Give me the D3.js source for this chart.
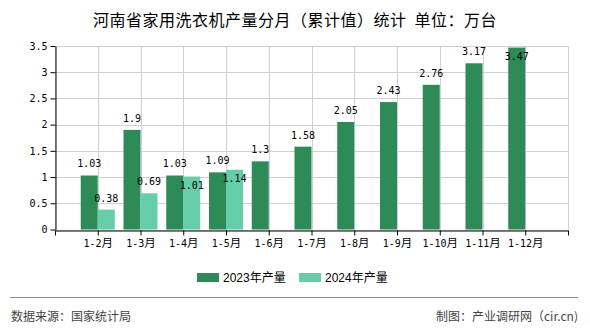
<!DOCTYPE html>
<html><head><meta charset="utf-8">
<script src="https://cdn.jsdelivr.net/npm/d3@7"></script>
<style>
html,body{margin:0;padding:0;background:#fff;}
svg{display:block;}
</style></head>
<body>
<svg id="chart" width="590" height="330"></svg>
<script>
const categories = ["1-2月","1-3月","1-4月","1-5月","1-6月","1-7月","1-8月","1-9月","1-10月","1-11月","1-12月"];
const values2023 = [1.03,1.9,1.03,1.09,1.3,1.58,2.05,2.43,2.76,3.17,3.47];
const values2024 = [0.38,0.69,1.01,1.14,null,null,null,null,null,null,null];
const seriesNames = ["2023年产量","2024年产量"];
const yTicks = [0,0.5,1,1.5,2,2.5,3,3.5];
const titleText = "河南省家用洗衣机产量分月（累计值）统计  单位：万台";
const sourceText = "数据来源：国家统计局";
const creditText = "制图：产业调研网（cir.cn)";

const colors = ["#2e8b57","#66cdaa"];
const svg = d3.select("#chart");
const L = 55, R = 568, T = 46, B = 229.5;
const monoFont = "'DejaVu Sans Mono','Noto Sans CJK SC',monospace";
const cjkFont = "'Noto Sans CJK SC','Liberation Sans',sans-serif";

const x = d3.scalePoint().domain(["", ...categories, " "]).range([L, R]);
const y = d3.scaleLinear().domain([0, 3.5]).range([B, T]);
const bw = 17;

// title
svg.append("text").attr("x", 295).attr("y", 26).attr("text-anchor","middle")
  .attr("font-family", cjkFont).attr("font-size", 16).attr("letter-spacing", 0.5).attr("fill","#000")
  .attr("xml:space","preserve").text(titleText);

// grid
const grid = svg.append("g");
grid.selectAll("line.h").data(yTicks).join("line")
  .attr("x1", L).attr("x2", R).attr("y1", d => Math.round(y(d)) + 0.5).attr("y2", d => Math.round(y(d)) + 0.5)
  .attr("stroke", "#d0d0d0").attr("stroke-width", 1);
grid.selectAll("line.v").data(x.domain()).join("line")
  .attr("x1", d => Math.round(x(d)) + 0.5).attr("x2", d => Math.round(x(d)) + 0.5)
  .attr("y1", T).attr("y2", B)
  .attr("stroke", "#d0d0d0").attr("stroke-width", 1);

// bars
const rows = categories.map((c, i) => ({c, v: [values2023[i], values2024[i]]}));
const bars = svg.append("g");
rows.forEach(r => {
  r.v.forEach((v, s) => {
    if (v == null) return;
    const x0 = s === 0 ? x(r.c) - bw : x(r.c);
    bars.append("rect").attr("x", x0).attr("width", bw)
      .attr("y", y(v)).attr("height", y(0) - y(v)).attr("fill", colors[s]);
  });
});

// axes
const xAxis = svg.append("g").attr("transform", `translate(0,${Math.round(B)+0.5})`)
  .call(d3.axisBottom(x).tickSize(5).tickSizeOuter(0));
xAxis.select(".domain").attr("stroke","#000");
xAxis.selectAll(".tick line").attr("stroke","#000");
xAxis.selectAll(".tick text").each(function(d){
  const t = d3.select(this);
  t.text(null).attr("y", 9).attr("dy","0.71em").attr("fill","#000");
  const m = d.match(/^(.*?)(月?)$/);
  t.append("tspan").attr("font-family", monoFont).attr("font-size", 10).text(m[1]);
  if (m[2]) t.append("tspan").attr("font-family", cjkFont).attr("font-size", 11.5).text(m[2]);
});

const yAxis = svg.append("g").attr("transform", `translate(${L+0.5},0)`)
  .call(d3.axisLeft(y).tickValues(yTicks).tickSize(5).tickSizeOuter(0).tickFormat(d => String(d)));
yAxis.select(".domain").attr("stroke","#000");
yAxis.selectAll(".tick line").attr("stroke","#000");
yAxis.selectAll(".tick text").attr("font-family", monoFont).attr("font-size", 10).attr("fill","#000").attr("x", -8);

// value labels
const labels = svg.append("g").attr("font-family", monoFont).attr("font-size", 10).attr("fill","#000").attr("text-anchor","middle");
rows.forEach(r => {
  let prev = null;
  r.v.forEach((v, s) => {
    if (v == null) return;
    const cx = s === 0 ? x(r.c) - bw/2 : x(r.c) + bw/2;
    let by = y(v) - 8;
    if (by - 8 < T) by = y(v) + 12;
    if (prev && Math.abs(prev - by) < 12) by = y(v) + 12;
    prev = by;
    labels.append("text").attr("x", cx).attr("y", by).text(String(v));
  });
});

// legend
const legendX = [197, 299];
const lg = svg.append("g");
seriesNames.forEach((n, i) => {
  lg.append("rect").attr("x", legendX[i]).attr("y", 273).attr("width", 22).attr("height", 9).attr("fill", colors[i]);
  lg.append("text").attr("x", legendX[i] + 26).attr("y", 282).attr("font-family", "'Liberation Sans','Noto Sans CJK SC',sans-serif")
    .attr("font-size", 12).attr("fill","#000").text(n);
});

// footer
svg.append("line").attr("x1", 10).attr("x2", 578).attr("y1", 297.5).attr("y2", 297.5).attr("stroke", "#888").attr("stroke-width", 1);
svg.append("text").attr("x", 11).attr("y", 321).attr("font-family", cjkFont).attr("font-size", 12).attr("fill","#444").text(sourceText);
svg.append("text").attr("x", 578).attr("y", 321).attr("text-anchor","end").attr("font-family", cjkFont).attr("font-size", 12).attr("fill","#444").text(creditText);
</script>
</body></html>
